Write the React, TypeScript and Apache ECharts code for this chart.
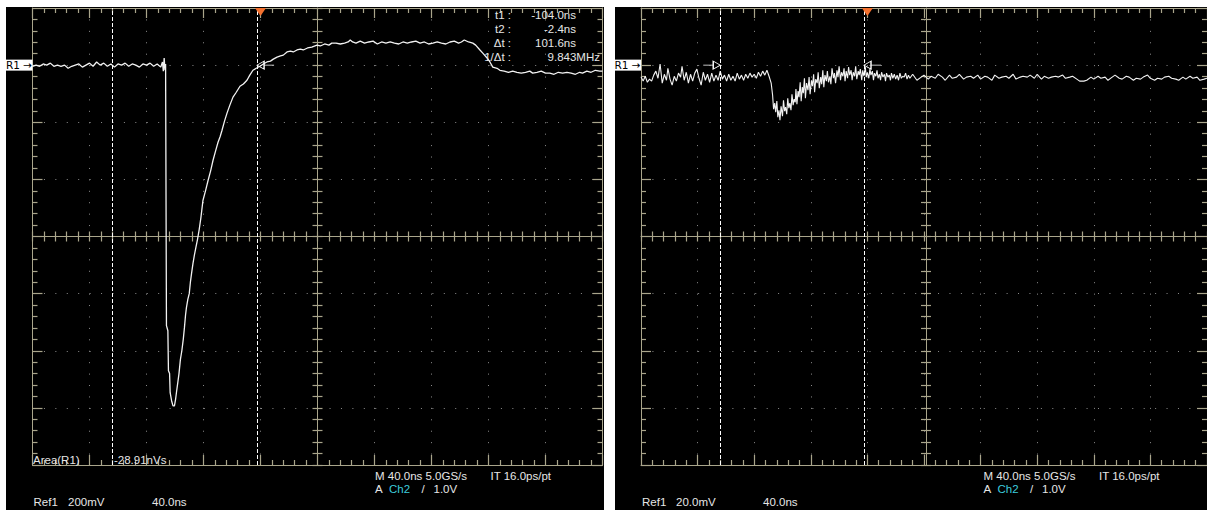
import { useEffect, useRef } from "react";
import * as echarts from "echarts";

// ---- axis ranges (ns horizontally, mV vertically; 0 mV = R1 reference marker)
const timeMin = -160;
const timeMax = 240;
const timeStep = 40;
const leftVoltMin = -1400;
const leftVoltMax = 200;
const leftVoltStep = 200;
const rightVoltMin = -140;
const rightVoltMax = 20;
const rightVoltStep = 20;

const cursorTimes = [-104.0, -2.4];
const triggerTime = 0;

// ---- left trace (Ref1, 200 mV/div) [ns, mV]
const leftTrace: [number, number][] = [
  [-160, -4], [-157.5, 0], [-155, -4], [-152.5, 4], [-150, 0], [-147.5, 7], [-145, -4], [-142.5, 0],
  [-140, -4], [-137.5, 0], [-135, -11], [-132.5, -4], [-130, 0], [-127.5, 4], [-125, -7], [-122.5, 0],
  [-120, 7], [-117.5, -4], [-115, 11], [-112.5, 0], [-110, 7], [-107.5, -4], [-105, 4], [-102.5, -7],
  [-100, 4], [-97.5, 0], [-95, 7], [-92.5, -4], [-90, 4], [-87.5, 0], [-85, -7], [-82.5, 4], [-80, 0],
  [-77.5, 7], [-75, -4], [-72.5, 4], [-70, -7], [-68.8, 11], [-68.2, -21], [-67.6, 25], [-67.0, -18],
  [-66.6, 4], [-66.0, -912], [-65.0, -930], [-64.6, -1070], [-63.8, -1080], [-63.4, -1147], [-62.4, -1175],
  [-61.4, -1193], [-60.4, -1193], [-59.6, -1170], [-59.0, -1147], [-58.0, -1110], [-57.2, -1080],
  [-56.2, -1030], [-55.2, -1000], [-54.2, -960], [-53.4, -920], [-52.6, -875], [-52.0, -850], [-51.0, -820],
  [-50.0, -800], [-49.2, -760], [-48.4, -730], [-47.4, -695], [-46.4, -665], [-45.4, -640], [-44.2, -610],
  [-43.0, -575], [-41.8, -533], [-40.4, -474], [-38.6, -440], [-36.8, -404], [-35.0, -370], [-33.3, -333],
  [-31.5, -300], [-29.8, -270], [-28.3, -250], [-27.0, -228], [-25.2, -195], [-23.5, -168], [-21.5, -140],
  [-19.3, -112], [-17.0, -95], [-14.4, -74], [-12.0, -66], [-9.5, -53], [-7.5, -35], [-5.3, -18], [-3.0, -11],
  [-0.4, -4], [2, 4], [4.5, 11], [7, 14], [9, 21], [11.6, 28], [14, 32], [16, 35], [18.6, 46], [21, 49],
  [23, 46], [25.6, 53], [28, 56], [30, 53], [33, 60], [36, 63], [39.6, 70], [42, 67], [45, 74], [48, 70],
  [50, 77], [53, 77], [56, 74], [59, 77], [61.5, 81], [63, 88], [64.6, 81], [67, 77], [70, 84], [73, 77],
  [76, 81], [79, 84], [82, 74], [85, 81], [88, 77], [91, 81], [94, 77], [97, 74], [100, 81], [103, 77],
  [106, 81], [109, 84], [112, 77], [115, 81], [118, 74], [121, 77], [124, 81], [127, 77], [130, 74],
  [133, 81], [136, 84], [139, 77], [141, 81], [143, 88], [146, 81], [149, 77], [151, 70], [154, 53],
  [156, 42], [159, 25], [161, 11], [163, -7], [166, -11], [168, -18], [171, -21], [174, -25], [177, -21],
  [180, -25], [183, -28], [186, -25], [189, -21], [191, -28], [194, -25], [197, -21], [200, -28], [203, -28],
  [206, -32], [209, -25], [212, -28], [215, -25], [218, -28], [221, -32], [224, -25], [226, -28], [229, -21],
  [232, -25], [235, -18], [238, -21], [240, -21],
];

// ---- right trace (Ref1, 20 mV/div) [ns, mV]
const rightTrace: [number, number][] = [
  [-160, -4.1], [-158.5, -5.6], [-157, -3.9], [-155.5, -6.0], [-154, -4.9], [-152.5, -5.6], [-151, -3.5],
  [-149.5, -2.1], [-148, -4.6], [-146.5, 0.4], [-145, -6.3], [-143.5, -3.2], [-142, -5.3], [-141, -1.1],
  [-139.5, -4.9], [-138, -7.0], [-136.5, -3.9], [-135, -5.6], [-133.5, -2.8], [-132, -4.2], [-131, -0.4],
  [-129.5, -5.3], [-128, -2.5], [-126.5, -6.3], [-125, -3.2], [-123.5, -5.6], [-122, -2.8], [-120.5, -1.4],
  [-119, -4.6], [-117.5, -7.0], [-116, -2.5], [-114.5, -5.3], [-113, -3.2], [-111.5, -6.0], [-110, -2.8],
  [-108.5, -5.6], [-107, -3.5], [-105.5, -5.3], [-104, -2.1], [-102.5, -4.9], [-101, -3.5], [-99.5, -5.6],
  [-98, -3.2], [-96.5, -5.3], [-95, -3.9], [-93.5, -5.6], [-92, -2.8], [-90.5, -4.9], [-89, -3.5],
  [-87.5, -5.3], [-86, -3.2], [-84.5, -4.6], [-83, -2.8], [-81.5, -4.2], [-80, -3.2], [-78.5, -4.6],
  [-77, -2.5], [-75.5, -3.9], [-74, -2.1], [-72.5, -3.5], [-71, -1.8], [-69.5, -3.9], [-68, -6.3],
  [-67, -10.5], [-66.3, -15.4], [-65.5, -13.3], [-64.8, -16.5], [-64, -12.6], [-63.3, -18.2], [-62.5, -15.8],
  [-61.8, -19.3], [-61, -14.4], [-60, -17.9], [-59.3, -12.3], [-58.5, -16.1], [-57.8, -14.7], [-57, -17.2],
  [-56.3, -11.6], [-55.5, -15.1], [-54.8, -13.3], [-54, -15.8], [-53.3, -10.2], [-52.5, -14.0], [-51.8, -11.9],
  [-51, -13.0], [-50.5, -8.4], [-49.8, -13.7], [-49, -9.1], [-48.3, -11.2], [-47.5, -6.0], [-46.8, -12.6],
  [-46, -7.7], [-45.3, -9.8], [-44.5, -4.6], [-43.8, -11.6], [-43, -6.3], [-42, -8.8], [-41.2, -4.2],
  [-40.5, -10.2], [-39.5, -5.3], [-38.8, -7.4], [-38, -3.2], [-37.3, -9.5], [-36.5, -4.9], [-35.5, -6.3],
  [-34.8, -2.5], [-34, -8.1], [-33, -4.2], [-32.3, -6.7], [-31.5, -1.8], [-30.8, -7.7], [-30, -3.5],
  [-29, -5.6], [-28.3, -2.1], [-27.5, -6.0], [-26.5, -3.9], [-25.8, -6.7], [-25, -1.1], [-24, -4.6],
  [-23.3, -2.8], [-22.5, -6.3], [-21.5, -1.8], [-20.8, -4.2], [-20, -0.4], [-19, -5.3], [-18.3, -2.5],
  [-17.3, -3.9], [-16.5, -1.1], [-15.8, -5.6], [-15, -2.1], [-14, -4.6], [-13.3, -0.7], [-12.5, -3.5],
  [-11.5, -1.8], [-10.8, -5.3], [-10, -2.5], [-9, -3.9], [-8.3, -0.4], [-7.5, -4.9], [-6.5, -2.1],
  [-5.8, -3.5], [-5, -1.4], [-4, -5.3], [-3.3, -1.8], [-2.5, -3.9], [-1.5, -0.7], [-0.8, -4.2], [0, -2.5],
  [1, -4.6], [1.8, -1.4], [2.5, -3.5], [3.5, -2.1], [4.3, -5.3], [5, -2.8], [6, -3.9], [6.8, -1.8],
  [7.5, -4.6], [8.5, -3.2], [9.3, -5.3], [10, -2.5], [11, -4.2], [12, -3.2], [12.8, -5.6], [13.5, -2.8],
  [14.5, -4.2], [15.5, -3.5], [16.3, -5.3], [17, -2.8], [18, -4.6], [19, -3.2], [20, -4.9], [21, -3.5],
  [22, -5.3], [23, -2.8], [24, -4.6], [25, -3.9], [26, -4.2], [27, -2.8], [28, -4.9], [29, -3.5], [30, -4.6],
  [32, -3.2], [35, -5.3], [38, -4.2], [40, -3.5], [43, -4.9], [45, -3.9], [48, -4.6], [50, -3.2],
  [53, -4.2], [55, -5.3], [58, -3.5], [60, -4.6], [63, -4.2], [65, -3.2], [68, -4.9], [70, -4.2], [73, -3.9],
  [75, -4.6], [78, -3.5], [80, -4.9], [83, -3.9], [85, -4.2], [88, -5.3], [90, -3.5], [93, -4.6], [95, -4.2],
  [98, -3.9], [100, -4.6], [103, -3.2], [105, -4.9], [108, -4.2], [110, -3.9], [113, -4.2], [115, -3.5],
  [118, -4.6], [120, -3.2], [123, -4.9], [125, -3.9], [128, -4.6], [130, -4.2], [133, -3.9], [135, -4.2],
  [138, -3.5], [140, -4.6], [143, -4.2], [145, -3.9], [148, -4.9], [150, -5.6], [153, -5.6], [155, -5.3],
  [158, -4.2], [160, -4.9], [163, -3.9], [165, -4.6], [168, -4.2], [170, -5.3], [173, -4.2], [175, -3.5],
  [178, -4.6], [180, -4.9], [183, -3.9], [185, -4.2], [188, -5.3], [190, -4.6], [193, -4.9], [195, -4.2],
  [198, -3.5], [200, -4.6], [203, -5.3], [205, -4.6], [208, -4.9], [210, -4.2], [213, -3.9], [215, -4.6],
  [218, -4.9], [220, -5.3], [223, -4.2], [225, -4.9], [228, -3.9], [230, -4.6], [233, -4.2], [235, -5.3],
  [238, -4.9], [240, -4.6],
];

// ---- texts
const readoutLabels = ["t1 :", "t2 :", "Δt :", "1/Δt :"];
const readoutValues = ["-104.0ns", "-2.4ns", "101.6ns", "9.843MHz"];
const areaLabel = "Area(R1)";
const areaValue = "-28.91nVs";
const acqText = "M 40.0ns 5.0GS/s";
const itText = "IT 16.0ps/pt";
const trigParts = ["A", "Ch2", "/", "1.0V"];
const leftRefParts = ["Ref1", "200mV", "40.0ns"];
const rightRefParts = ["Ref1", "20.0mV", "40.0ns"];

const TAN = "#a9a58b";
const DOT = "#8c8c8c";
const TXT = "#e6e6e6";
const FONT = "'Liberation Sans', Arial, sans-serif";

function borderAxis(gridIndex: number, position: string, min: number, max: number, interval: number, split: boolean) {
  return {
    type: "value", gridIndex, position, min, max, interval,
    axisLine: { show: true, onZero: false, lineStyle: { color: TAN, width: 1 } },
    axisTick: { show: true, inside: true, length: 10, lineStyle: { color: TAN, width: 1.2 } },
    minorTick: { show: true, splitNumber: 5, length: 5, lineStyle: { color: TAN, width: 1.2 } },
    axisLabel: { show: false },
    splitLine: { show: split, lineStyle: { color: DOT, width: 1, type: [1, 10.425] } },
    minorSplitLine: { show: false },
  };
}

function centerAxis(gridIndex: number, position: string, offset: number, min: number, max: number, interval: number, inside: boolean, line: boolean) {
  return {
    type: "value", gridIndex, position, offset, min, max, interval,
    axisLine: { show: line, onZero: false, lineStyle: { color: TAN, width: 1 } },
    axisTick: { show: true, inside, length: 5, lineStyle: { color: TAN, width: 1.2 } },
    minorTick: { show: true, splitNumber: 5, length: 5, lineStyle: { color: TAN, width: 1.2 } },
    axisLabel: { show: false },
    splitLine: { show: false },
    minorSplitLine: { show: false },
  };
}

const GRID_W = 570;
const GRID_H = 457;

function xAxesFor(g: number) {
  return [
    borderAxis(g, "bottom", timeMin, timeMax, timeStep, true),
    borderAxis(g, "top", timeMin, timeMax, timeStep, false),
    centerAxis(g, "bottom", -GRID_H / 2, timeMin, timeMax, timeStep, true, true),
    centerAxis(g, "bottom", -GRID_H / 2, timeMin, timeMax, timeStep, false, false),
  ];
}
function yAxesFor(g: number, min: number, max: number, step: number) {
  return [
    borderAxis(g, "left", min, max, step, true),
    borderAxis(g, "right", min, max, step, false),
    centerAxis(g, "left", -GRID_W / 2, min, max, step, true, true),
    centerAxis(g, "left", -GRID_W / 2, min, max, step, false, false),
  ];
}

function markers(yMax: number, withStartArrow: boolean) {
  const pts: any[] = [
    {
      coord: [triggerTime, yMax], symbol: "triangle", symbolRotate: 180, symbolSize: [11, 8],
      symbolOffset: [0, 4], itemStyle: { color: "#f4712f" },
    },
    {
      coord: [timeMin, 0], symbol: "rect", symbolSize: [27, 11], symbolOffset: [-13.5, 0],
      itemStyle: { color: "#ffffff" },
      label: { show: true, position: "inside", formatter: "R1 →", color: "#000", fontSize: 10.5, fontFamily: "'DejaVu Sans', sans-serif" },
    },
    {
      coord: [cursorTimes[1], 0], symbol: "path://M17,5 L7,5 M7,1 L0,5 L7,9 Z", symbolSize: [17, 8],
      symbolOffset: [8.5, 0], itemStyle: { color: "transparent", borderColor: "#ffffff", borderWidth: 1 },
    },
  ];
  if (withStartArrow) {
    pts.push({
      coord: [cursorTimes[0], 0], symbol: "path://M0,5 L10,5 M10,1 L17,5 L10,9 Z", symbolSize: [17, 8],
      symbolOffset: [-8.5, 0], itemStyle: { color: "transparent", borderColor: "#ffffff", borderWidth: 1 },
    });
  }
  return {
    markLine: {
      silent: true,
      symbol: ["none", "none"],
      label: { show: false },
      lineStyle: { color: "#ffffff", width: 1, type: [4, 2] },
      emphasis: { disabled: true },
      data: cursorTimes.map((t) => ({ xAxis: t })),
    },
    markPoint: { silent: true, label: { show: false }, data: pts },
  };
}

function txt(text: string, x: number, y: number, align = "left", color = TXT) {
  return {
    type: "text", x, y, z: 50, silent: true,
    style: {
      text, fill: color, fontSize: 11.5, fontFamily: FONT,
      textAlign: align, align, textVerticalAlign: "middle", verticalAlign: "middle",
    },
  };
}

export default function App() {
  const ref = useRef<HTMLDivElement>(null);
  useEffect(() => {
    if (!ref.current) return;
    const chart = echarts.init(ref.current, undefined, { renderer: "svg" });
    const L = 32.5;
    const R = 641;
    const readoutY = [15, 29, 43, 57];
    const graphics: any[] = [
      { type: "rect", z: -10, silent: true, shape: { x: 6, y: 7, width: 598, height: 503 }, style: { fill: "#000" } },
      { type: "rect", z: -10, silent: true, shape: { x: 615, y: 7, width: 592, height: 503 }, style: { fill: "#000" } },
    ];
    readoutLabels.forEach((s, i) => graphics.push(txt(s, 511, readoutY[i], "right")));
    readoutValues.forEach((s, i) => graphics.push(txt(s, i === 3 ? 600 : 576, readoutY[i], "right")));
    graphics.push(txt(areaLabel, 33, 460));
    graphics.push(txt(areaValue, 114, 460));
    [L, R].forEach((g, p) => {
      graphics.push(txt(acqText, g + 342.5, 476));
      graphics.push(txt(itText, g + 458, 476));
      graphics.push(txt(trigParts[0], g + 342.5, 489));
      graphics.push(txt(trigParts[1], g + 356.5, 489, "left", "#3ccbdc"));
      graphics.push(txt(trigParts[2], g + 389, 489));
      graphics.push(txt(trigParts[3], g + 401, 489));
      const parts = p === 0 ? leftRefParts : rightRefParts;
      const offs = p === 0 ? [1, 35.5, 119.5] : [1, 35, 122];
      parts.forEach((s, i) => graphics.push(txt(s, g + offs[i], 502)));
    });

    chart.setOption({
      animation: false,
      backgroundColor: "#ffffff",
      grid: [
        { left: L, top: 8, width: GRID_W, height: GRID_H },
        { left: R, top: 8, width: GRID_W, height: GRID_H },
      ],
      xAxis: [...xAxesFor(0), ...xAxesFor(1)],
      yAxis: [
        ...yAxesFor(0, leftVoltMin, leftVoltMax, leftVoltStep),
        ...yAxesFor(1, rightVoltMin, rightVoltMax, rightVoltStep),
      ],
      series: [
        {
          type: "line", name: "Ref1 left", xAxisIndex: 0, yAxisIndex: 0, data: leftTrace,
          showSymbol: false, symbol: "none", lineStyle: { color: "#f2f2f2", width: 1.3 },
          emphasis: { disabled: true }, ...markers(leftVoltMax, false),
        },
        {
          type: "line", name: "Ref1 right", xAxisIndex: 4, yAxisIndex: 4, data: rightTrace,
          showSymbol: false, symbol: "none", lineStyle: { color: "#f2f2f2", width: 1.1 },
          emphasis: { disabled: true }, ...markers(rightVoltMax, true),
        },
      ],
      graphic: graphics,
    });
    return () => chart.dispose();
  }, []);
  return <div ref={ref} style={{ position: "absolute", left: 0, top: 0, width: 1207, height: 510 }} />;
}
